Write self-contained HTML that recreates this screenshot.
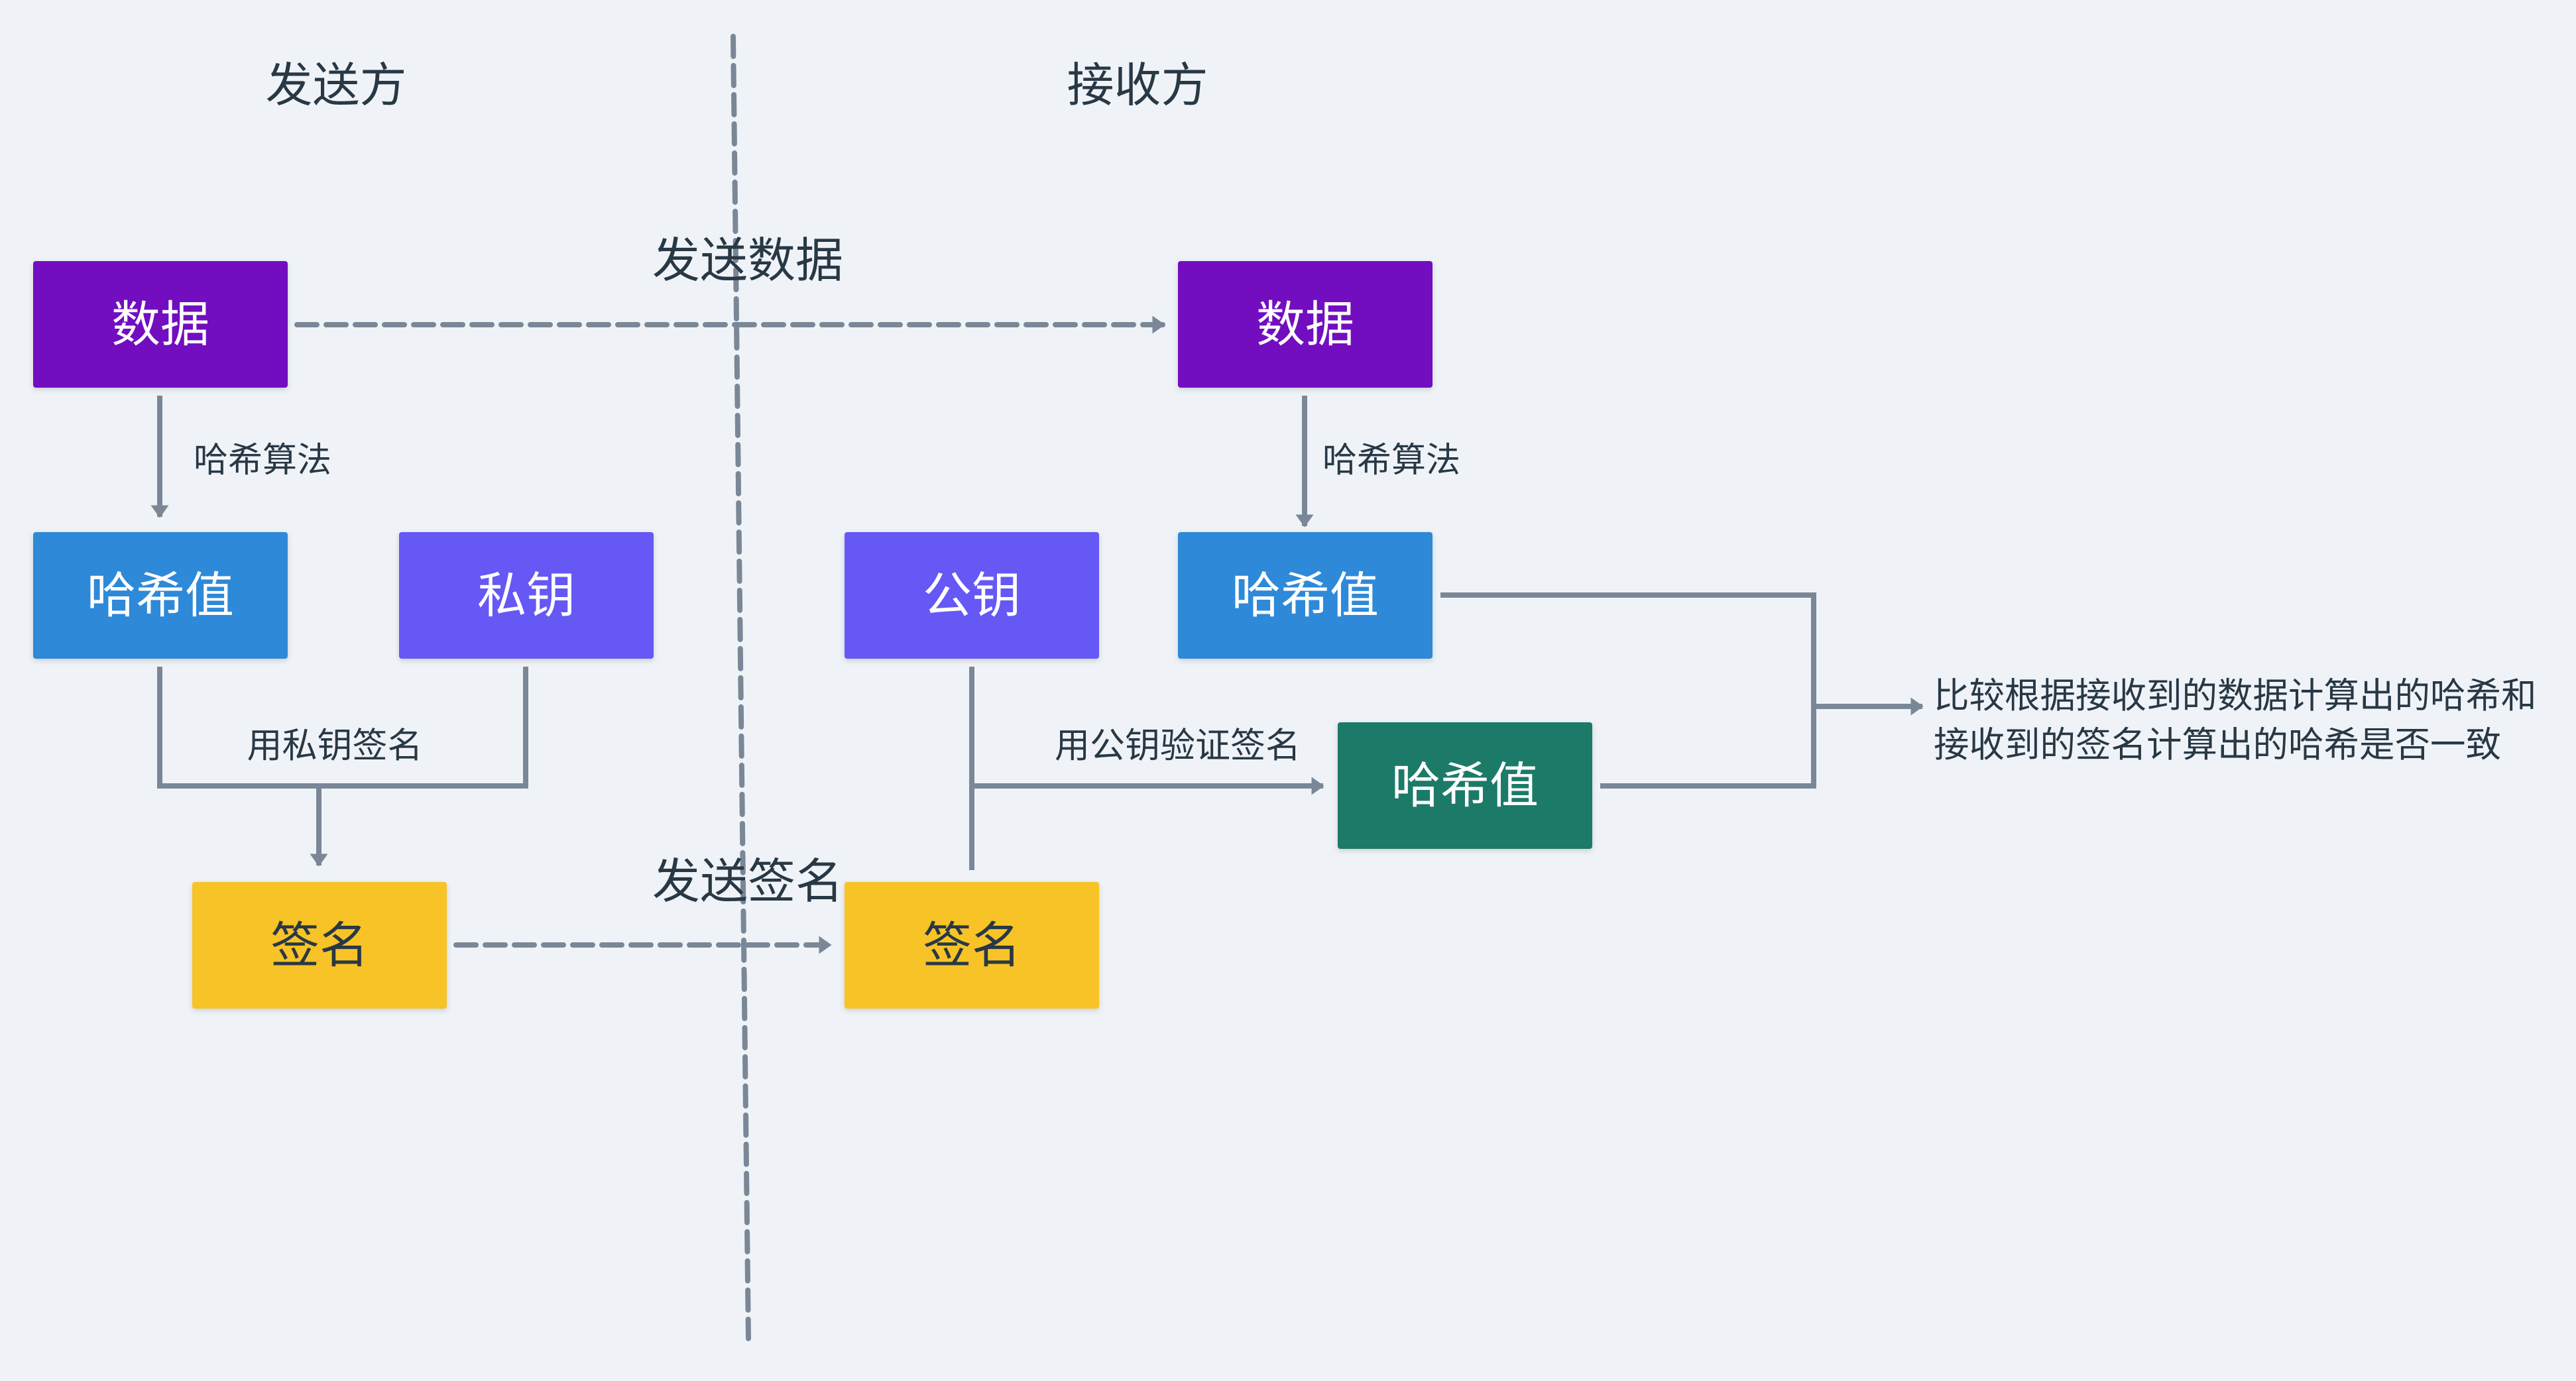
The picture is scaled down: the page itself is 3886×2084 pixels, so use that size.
<!DOCTYPE html>
<html><head><meta charset="utf-8"><style>
html,body{margin:0;padding:0;background:#eff3f7;}
svg{display:block;}
text{font-family:"Liberation Sans","Noto Sans CJK SC",sans-serif;}
</style></head><body>
<svg width="3886" height="2084" viewBox="0 0 3886 2084" xmlns="http://www.w3.org/2000/svg">
<defs>
<filter id="sh" x="-10%" y="-10%" width="120%" height="130%"><feDropShadow dx="0" dy="3" stdDeviation="4" flood-color="#000" flood-opacity="0.15"/></filter>
<marker id="ar" markerWidth="4" markerHeight="4" refX="2.2" refY="2" orient="auto" markerUnits="strokeWidth"><path d="M0,0.3 L2.4,2 L0,3.7 Z" fill="#7a8796"/></marker>
</defs>
<rect width="3886" height="2084" fill="#eff3f7"/>
<!-- headers -->
<text x="507" y="153" font-size="71" fill="#283845" text-anchor="middle">发送方</text>
<text x="1716" y="153" font-size="71" fill="#283845" text-anchor="middle">接收方</text>

<g stroke="#7a8796" stroke-width="8" fill="none" stroke-linecap="round">
<!-- divider -->
<line x1="1106" y1="55" x2="1129" y2="2020" stroke-dasharray="30 14"/>
<!-- dashed data -->
<line x1="448" y1="490" x2="1756" y2="490" stroke-dasharray="30 14" marker-end="url(#ar)"/>
<!-- dashed sign -->
<line x1="688" y1="1426" x2="1253" y2="1426" stroke-dasharray="30 14" marker-end="url(#ar)"/>
</g>
<g stroke="#7a8796" stroke-width="8" fill="none">
<line x1="241" y1="597" x2="241" y2="780" marker-end="url(#ar)"/>
<polyline points="241,1006 241,1186 793,1186 793,1006"/>
<line x1="481" y1="1186" x2="481" y2="1306" marker-end="url(#ar)"/>
<line x1="1968" y1="597" x2="1968" y2="794" marker-end="url(#ar)"/>
<line x1="1466" y1="1006" x2="1466" y2="1313"/>
<line x1="1466" y1="1186" x2="1996" y2="1186" marker-end="url(#ar)"/>
<polyline points="2173,898 2736,898 2736,1186 2414,1186"/>
<line x1="2736" y1="1066" x2="2900" y2="1066" marker-end="url(#ar)"/>
</g>

<!-- labels -->
<text x="1128" y="418" font-size="72" fill="#283845" text-anchor="middle">发送数据</text>
<text x="1128" y="1355" font-size="72" fill="#283845" text-anchor="middle">发送签名</text>
<text x="292" y="712" font-size="52" fill="#283845">哈希算法</text>
<text x="1995" y="712" font-size="52" fill="#283845">哈希算法</text>
<text x="505" y="1143" font-size="53" fill="#283845" text-anchor="middle">用私钥签名</text>
<text x="1591" y="1143" font-size="53" fill="#283845">用公钥验证签名</text>
<text x="2917" y="1068" font-size="53.5" fill="#283845">比较根据接收到的数据计算出的哈希和</text>
<text x="2917" y="1142" font-size="53.5" fill="#283845">接收到的签名计算出的哈希是否一致</text>

<!-- boxes -->
<g filter="url(#sh)">
<rect x="50" y="394" width="384" height="191" rx="4" fill="#7210c0"/>
<rect x="50" y="803" width="384" height="191" rx="4" fill="#2d89d8"/>
<rect x="602" y="803" width="384" height="191" rx="4" fill="#6559f5"/>
<rect x="290" y="1331" width="384" height="191" rx="4" fill="#f7c325"/>
<rect x="1274" y="803" width="384" height="191" rx="4" fill="#6559f5"/>
<rect x="1274" y="1331" width="384" height="191" rx="4" fill="#f7c325"/>
<rect x="1777" y="394" width="384" height="191" rx="4" fill="#7210c0"/>
<rect x="1777" y="803" width="384" height="191" rx="4" fill="#2d89d8"/>
<rect x="2018" y="1090" width="384" height="191" rx="4" fill="#1f7a68"/>
</g>
<g font-size="74" text-anchor="middle" fill="#fff">
<text x="242" y="515">数据</text>
<text x="242" y="924">哈希值</text>
<text x="794" y="924">私钥</text>
<text x="482" y="1452" fill="#283845">签名</text>
<text x="1466" y="924">公钥</text>
<text x="1466" y="1452" fill="#283845">签名</text>
<text x="1969" y="515">数据</text>
<text x="1969" y="924">哈希值</text>
<text x="2210" y="1211">哈希值</text>
</g>
</svg>
</body></html>
